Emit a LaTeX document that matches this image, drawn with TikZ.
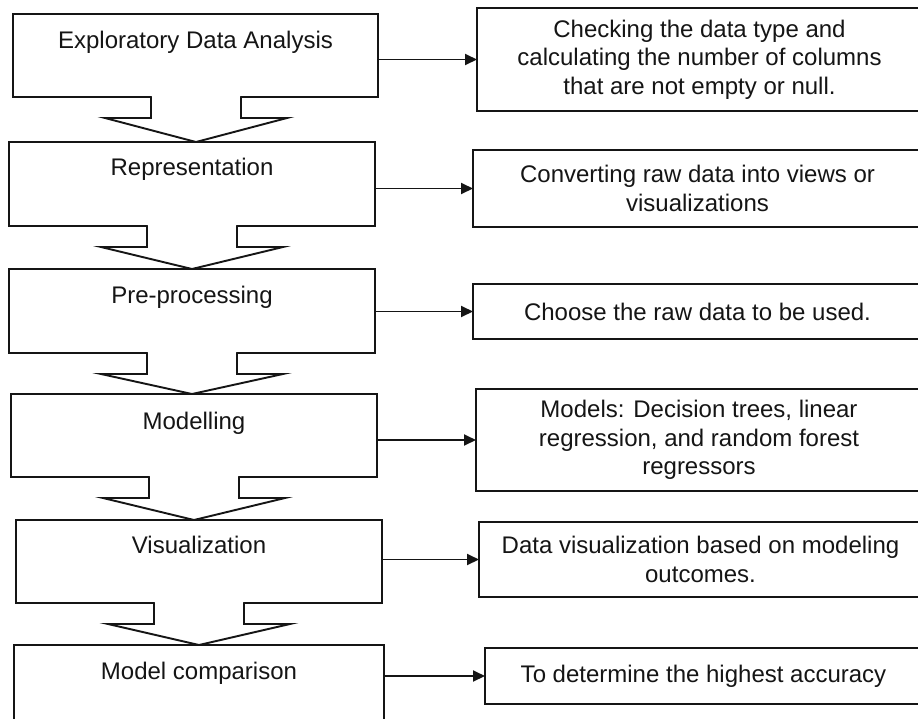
\documentclass[tikz,border=0pt]{standalone}
\usepackage{fontspec}
\setmainfont{Liberation Sans}
\usetikzlibrary{arrows.meta}

\definecolor{ink}{HTML}{151515}

\tikzset{
  lbox/.style={draw=ink, line width=1.9pt, fill=white, rectangle, inner sep=0pt, outer sep=0pt},
  rbox/.style={draw=ink, line width=1.9pt, fill=white, rectangle, inner sep=0pt, outer sep=0pt,
               align=center, font=\fontsize{24}{28.5}\selectfont, text=ink},
  ltext/.style={anchor=base, inner sep=0pt, font=\fontsize{24}{28.5}\selectfont, text=ink},
  conn/.style={draw=ink, line width=1.9pt, -{Triangle[length=12pt,width=11pt]}},
  blk/.style={draw=ink, line width=1.9pt}
}

% broad downward arrow joining two stacked stage boxes
% #1 upper box, #2 lower box, #3 centre x, #4 shoulder y
\newcommand{\stagearrow}[4]{%
  \fill[white] ({#3-44.2},0 |- #1.south) ++(0,-2.5) -- ({#3-44.2},#4) -- ({#3+44.2},#4)
     -- ({#3+44.2},0 |- #1.south) -- ++(0,-2.5) -- cycle;
  \draw[blk] ({#3-45},0 |- #1.south) -- ({#3-45},#4) -- ({#3-91},#4)
     -- (#3,0 |- #2.north) -- ({#3+91},#4) -- ({#3+45},#4) -- ({#3+45},0 |- #1.south);
}

\begin{document}
\begin{tikzpicture}[x=1pt, y=-1pt]
  \useasboundingbox (0,0) rectangle (918,718);
  \fill[white] (0,0) rectangle (918,718);
  \clip (0,0) rectangle (918,718);

  % stage boxes
  \node[lbox, minimum width=365pt, minimum height=83pt] (b1) at (195.5,55.5) {};
  \node[lbox, minimum width=366pt, minimum height=84pt] (b2) at (192,184) {};
  \node[lbox, minimum width=366pt, minimum height=84pt] (b3) at (192,311) {};
  \node[lbox, minimum width=366pt, minimum height=83pt] (b4) at (194,435.5) {};
  \node[lbox, minimum width=366pt, minimum height=83pt] (b5) at (199,561.5) {};
  \node[lbox, minimum width=370pt, minimum height=85pt] (b6) at (199,687.5) {};

  \node[ltext] (t1) at ([yshift=-34pt]b1.north) {Exploratory Data Analysis};
  \node[ltext] (t2) at ([yshift=-33pt]b2.north) {Representation};
  \node[ltext] (t3) at ([yshift=-34pt]b3.north) {Pre-processing};
  \node[ltext] (t4) at ([yshift=-35pt]b4.north) {Modelling};
  \node[ltext] (t5) at ([yshift=-33pt]b5.north) {Visualization};
  \node[ltext] (t6) at ([yshift=-34pt]b6.north) {Model comparison};

  % arrows between stages
  \stagearrow{b1}{b2}{196}{118}
  \stagearrow{b2}{b3}{192}{247}
  \stagearrow{b3}{b4}{192}{374}
  \stagearrow{b4}{b5}{194}{498}
  \stagearrow{b5}{b6}{199}{624}

  % description boxes
  \node[rbox, minimum width=445pt, minimum height=103pt] (r1) at (699.5,59.5)
    {Checking the data type and\\calculating the number of columns\\that are not empty or null.};
  \node[rbox, minimum width=449pt, minimum height=77pt] (r2) at (697.5,188.5)
    {Converting raw data into views or\\visualizations};
  \node[rbox, minimum width=449pt, minimum height=55pt] (r3) at (697.5,311.5)
    {Choose the raw data to be used.};
  \node[rbox, minimum width=446pt, minimum height=102pt] (r4) at (699,440)
    {Models: Decision trees, linear\\regression, and random forest\\regressors};
  \node[rbox, minimum width=443pt, minimum height=75pt] (r5) at (700.5,559.5)
    {Data visualization based on modeling\\outcomes.};
  \node[rbox, minimum width=437pt, minimum height=56pt] (r6) at (703.5,676)
    {To determine the highest accuracy};

  % connectors
  \draw[conn] (b1.east |- r1.west) -- (r1.west);
  \draw[conn] (b2.east |- r2.west) -- (r2.west);
  \draw[conn] (b3.east |- r3.west) -- (r3.west);
  \draw[conn] (b4.east |- r4.west) -- (r4.west);
  \draw[conn] (b5.east |- r5.west) -- (r5.west);
  \draw[conn] (b6.east |- r6.west) -- (r6.west);
\end{tikzpicture}
\end{document}
